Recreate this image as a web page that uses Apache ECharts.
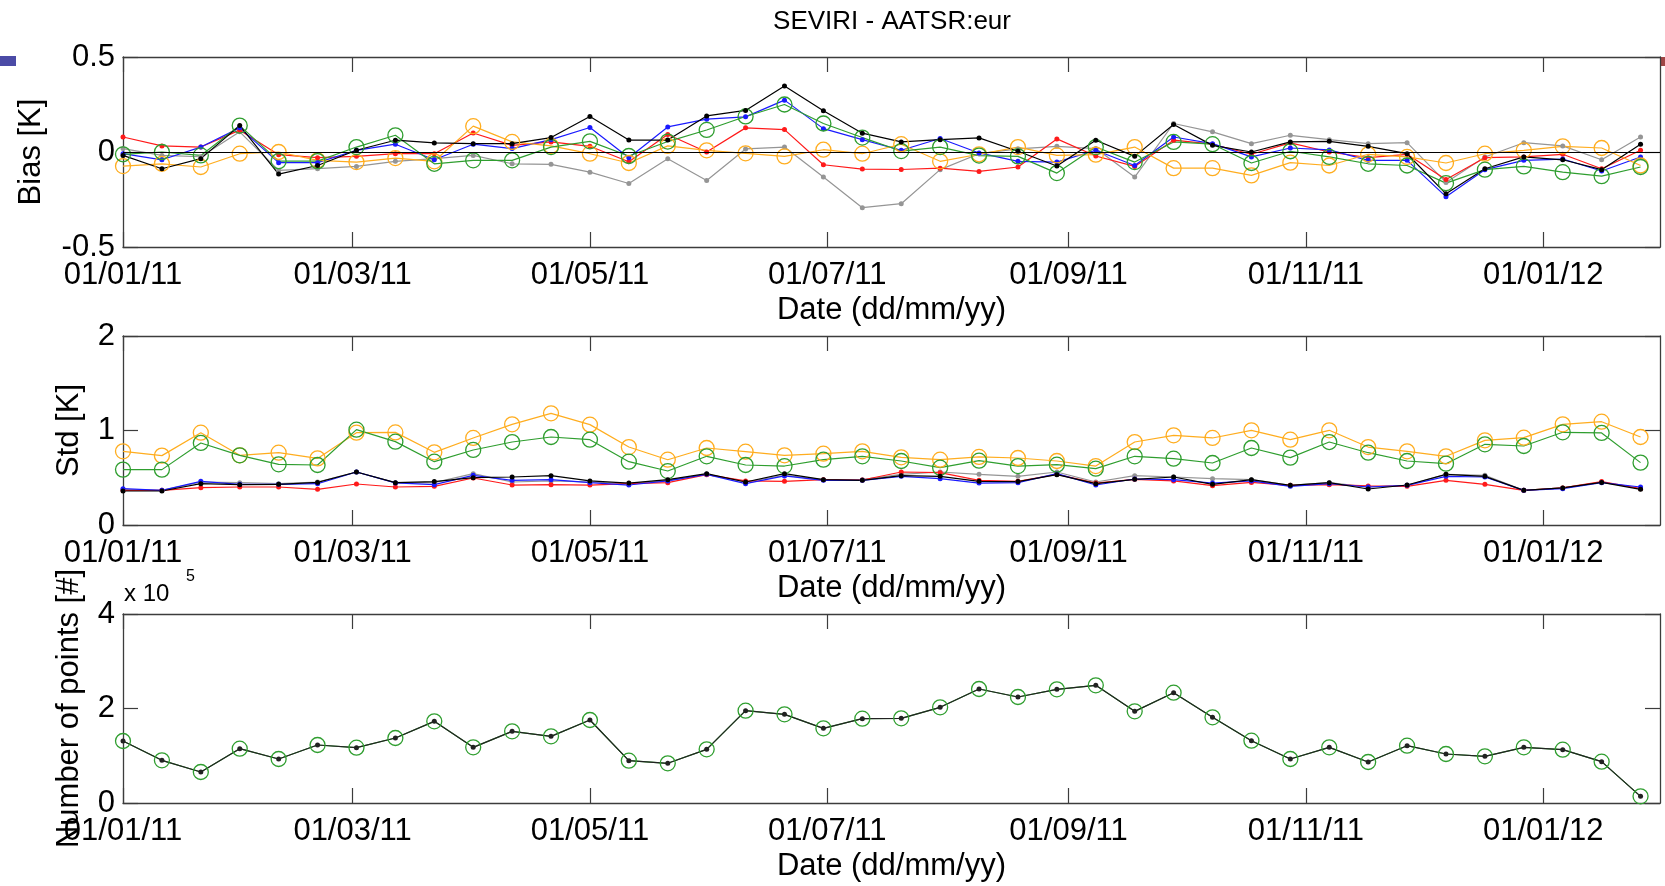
<!DOCTYPE html>
<html><head><meta charset="utf-8">
<script src="https://cdn.jsdelivr.net/npm/echarts@6/dist/echarts.min.js"></script>
<style>html,body{margin:0;padding:0;background:#fff}#c{width:1665px;height:886px}</style>
</head><body><div id="c"></div>
<script>
// ---- data ----
const dates = ['2011-01-01','2011-01-11','2011-01-21','2011-01-31','2011-02-10','2011-02-20','2011-03-02','2011-03-12','2011-03-22','2011-04-01',
 '2011-04-11','2011-04-21','2011-05-01','2011-05-11','2011-05-21','2011-05-31','2011-06-10','2011-06-20','2011-06-30','2011-07-10',
 '2011-07-20','2011-07-30','2011-08-09','2011-08-19','2011-08-29','2011-09-08','2011-09-18','2011-09-28','2011-10-08','2011-10-18',
 '2011-10-28','2011-11-07','2011-11-17','2011-11-27','2011-12-07','2011-12-17','2011-12-27','2012-01-06','2012-01-16','2012-01-26'];
const tickDates = ['2011-01-01','2011-03-01','2011-05-01','2011-07-01','2011-09-01','2011-11-01','2012-01-01'];
const tickLabels = ['01/01/11','01/03/11','01/05/11','01/07/11','01/09/11','01/11/11','01/01/12'];
const xStart = '2011-01-01', xEnd = '2012-01-31';

const biasRed = [0.079,0.032,0.026,0.115,-0.014,-0.03,-0.023,-0.009,-0.009,0.10,0.035,0.053,0.03,-0.051,0.092,0.0,0.127,0.118,-0.067,-0.09,-0.092,-0.085,-0.102,-0.079,0.069,-0.021,-0.076,0.062,0.041,-0.012,0.048,0.0,-0.03,-0.012,-0.145,-0.03,-0.026,-0.012,-0.088,0.009];
const biasBlue = [-0.009,-0.041,0.026,0.127,-0.056,-0.056,0.009,0.041,-0.041,0.041,0.018,0.065,0.129,-0.03,0.132,0.173,0.185,0.273,0.123,0.065,0.009,0.071,-0.005,-0.049,-0.053,0.009,-0.071,0.079,0.044,-0.026,0.021,0.011,-0.044,-0.044,-0.235,-0.093,-0.044,-0.037,-0.10,-0.026];
const biasGray = [0.018,-0.018,-0.025,0.106,-0.097,-0.088,-0.076,-0.049,-0.035,-0.018,-0.062,-0.065,-0.106,-0.166,-0.035,-0.15,0.016,0.026,-0.132,-0.293,-0.272,-0.093,-0.009,0.016,0.03,0.018,-0.132,0.15,0.106,0.044,0.088,0.065,0.044,0.049,-0.16,-0.026,0.049,0.032,-0.041,0.079];
const biasBlack = [-0.018,-0.088,-0.035,0.139,-0.116,-0.071,0.009,0.062,0.048,0.044,0.044,0.076,0.187,0.063,0.063,0.19,0.219,0.347,0.217,0.099,0.053,0.065,0.074,0.004,-0.074,0.062,-0.023,0.145,0.035,0.0,0.053,0.056,0.03,-0.009,-0.22,-0.088,-0.026,-0.041,-0.093,0.041];
const biasGreen = [-0.012,0.0,-0.018,0.139,-0.048,-0.048,0.026,0.088,-0.062,-0.044,-0.044,0.026,0.056,-0.021,0.055,0.116,0.187,0.25,0.15,0.076,0.005,0.026,-0.019,-0.023,-0.111,0.026,-0.053,0.053,0.041,-0.058,0.004,-0.026,-0.062,-0.071,-0.164,-0.093,-0.076,-0.106,-0.127,-0.079];
const biasOrange = [-0.074,-0.062,-0.079,-0.009,0.0,-0.044,-0.053,-0.032,-0.049,0.136,0.053,0.032,-0.009,-0.058,0.032,0.009,-0.007,-0.023,0.012,-0.009,0.041,-0.049,-0.012,0.026,-0.018,-0.014,0.026,-0.085,-0.085,-0.123,-0.056,-0.071,-0.012,-0.026,-0.058,-0.009,0.009,0.03,0.021,-0.071];

const stdOrange = [0.78,0.734,0.977,0.737,0.765,0.705,0.977,0.98,0.769,0.921,1.065,1.182,1.062,0.825,0.691,0.815,0.776,0.737,0.755,0.78,0.716,0.691,0.72,0.709,0.677,0.624,0.878,0.949,0.921,1.002,0.903,1.002,0.825,0.78,0.727,0.896,0.924,1.065,1.093,0.931];
const stdGreen = [0.586,0.586,0.868,0.737,0.642,0.635,1.009,0.882,0.67,0.794,0.878,0.931,0.903,0.67,0.571,0.727,0.635,0.624,0.691,0.727,0.677,0.607,0.681,0.624,0.638,0.596,0.727,0.702,0.656,0.815,0.713,0.878,0.765,0.677,0.649,0.854,0.836,0.981,0.974,0.66];
const stdBlack = [0.36,0.36,0.437,0.427,0.43,0.451,0.561,0.448,0.459,0.501,0.508,0.522,0.466,0.444,0.48,0.543,0.455,0.543,0.48,0.473,0.522,0.515,0.462,0.459,0.533,0.437,0.483,0.508,0.43,0.48,0.42,0.448,0.381,0.423,0.536,0.515,0.367,0.392,0.451,0.377];
const stdBlue = [0.384,0.367,0.462,0.43,0.43,0.437,0.561,0.445,0.427,0.526,0.473,0.48,0.448,0.423,0.466,0.536,0.437,0.519,0.473,0.473,0.515,0.49,0.444,0.448,0.543,0.423,0.487,0.48,0.444,0.466,0.409,0.437,0.402,0.42,0.515,0.508,0.367,0.384,0.448,0.402];
const stdRed = [0.367,0.367,0.395,0.402,0.402,0.377,0.434,0.402,0.409,0.497,0.423,0.427,0.423,0.437,0.448,0.533,0.466,0.462,0.48,0.476,0.561,0.554,0.473,0.462,0.536,0.444,0.483,0.466,0.416,0.451,0.42,0.427,0.413,0.409,0.473,0.43,0.367,0.392,0.459,0.384];
const stdGray = [0.374,0.367,0.455,0.448,0.437,0.455,0.561,0.448,0.448,0.543,0.455,0.466,0.455,0.437,0.473,0.536,0.455,0.526,0.48,0.48,0.536,0.561,0.536,0.515,0.561,0.455,0.522,0.508,0.49,0.48,0.42,0.448,0.402,0.42,0.536,0.526,0.367,0.392,0.455,0.384];

const counts = [131200,90300,65600,115000,93100,122800,117100,137600,172800,117800,151700,141100,175700,89600,84000,113600,195400,187700,158000,178500,179200,202500,241300,224300,240600,249000,194000,233500,181300,131900,93100,117800,86800,121300,103700,98800,117800,112900,87500,14100];

const yTicksBias = [-0.5, 0, 0.5];
const yTicksStd = [0, 1, 2];
const yTicksCount = [0, 200000, 400000];

// ---- helpers: x axis in days since xStart ----
function dayOf(s){const p=s.split('-').map(Number);const a=xStart.split('-').map(Number);
  return Math.round((Date.UTC(p[0],p[1]-1,p[2])-Date.UTC(a[0],a[1]-1,a[2]))/86400000);}
const tickVals = tickDates.map(dayOf);
const FONT = 'Liberation Sans, Arial, Helvetica, sans-serif';
const FS = 31;
const AX = '#3c3c3c';
const COL = {red:'#ff1a1a', blue:'#1a1aff', gray:'#959595', black:'#000000', green:'#2f9e2f', orange:'#ffad1f'};

function xAx(g, top){
  return {
    type:'value', gridIndex:g, position: top?'top':'bottom', min: dayOf(xStart), max: dayOf(xEnd),
    axisLine:{show:true, onZero:false, lineStyle:{color:AX, width:1.3}},
    axisTick:{show:true, inside:true, length:15, customValues:tickVals, lineStyle:{color:AX, width:1.2}},
    axisLabel:{show:!top, customValues:tickVals, showMinLabel:true, showMaxLabel:true, fontSize:FS, color:'#000', fontFamily:FONT, margin:13,
      formatter:function(v){const k=tickVals.indexOf(Math.round(v));return k>=0?tickLabels[k]:'';}},
    splitLine:{show:false},
    name: top?'':'Date (dd/mm/yy)', nameLocation:'middle', nameGap:48,
    nameTextStyle:{fontSize:FS, color:'#000', fontFamily:FONT}
  };
}
function yAx(g, right, ticks, name, gap, fmt){
  return {
    type:'value', gridIndex:g, position: right?'right':'left', min:ticks[0], max:ticks[ticks.length-1], interval:ticks[1]-ticks[0],
    axisLine:{show:true, onZero:false, lineStyle:{color:AX, width:1.3}},
    axisTick:{show:true, inside:true, length:15, lineStyle:{color:AX, width:1.2}},
    axisLabel:{show:!right, fontSize:FS, color:'#000', fontFamily:FONT, margin:8, formatter: fmt || (v=>String(v))},
    splitLine:{show:false},
    name: right?'':name, nameLocation:'middle', nameRotate:90, nameGap:gap,
    nameTextStyle:{fontSize:FS, color:'#000', fontFamily:FONT}
  };
}
function dotSeries(g, arr, color, extra){
  return Object.assign({
    type:'line', xAxisIndex:2*g, yAxisIndex:2*g,
    data: dates.map((d,i)=>[dayOf(d), arr[i]]),
    symbol:'circle', symbolSize:5, showSymbol:true,
    lineStyle:{color:color, width:1.2}, itemStyle:{color:color},
    silent:true, z:3
  }, extra||{});
}
function ringSeries(g, arr, color){
  return {
    type:'line', xAxisIndex:2*g, yAxisIndex:2*g,
    data: dates.map((d,i)=>[dayOf(d), arr[i]]),
    symbol:'circle', symbolSize:15, showSymbol:true,
    lineStyle:{color:color, width:1.2}, itemStyle:{color:'rgba(0,0,0,0)', borderColor:color, borderWidth:1.3},
    silent:true, z:3
  };
}

const grids = [
  {left:123, right:5, top:57, height:190},
  {left:123, right:5, top:336, height:189},
  {left:123, right:5, top:614, height:189}
];

const option = {
  animation:false,
  backgroundColor:'#fff',
  title:{text:'SEVIRI - AATSR:eur', left:892, top:9, textAlign:'center', padding:0,
    textStyle:{fontSize:26, fontWeight:'normal', color:'#000', fontFamily:FONT}},
  grid: grids,
  xAxis:[xAx(0,false),xAx(0,true),xAx(1,false),xAx(1,true),xAx(2,false),xAx(2,true)],
  yAxis:[
    yAx(0,false,yTicksBias,'Bias [K]',76), yAx(0,true,yTicksBias,'',0),
    yAx(1,false,yTicksStd,'Std [K]',38), yAx(1,true,yTicksStd,'',0),
    yAx(2,false,yTicksCount,'Number of points [#]',38, v=>String(v/1e5)), yAx(2,true,yTicksCount,'',0)
  ],
  series:[
    dotSeries(0, biasGray, COL.gray),
    dotSeries(0, biasRed, COL.red),
    dotSeries(0, biasBlue, COL.blue),
    ringSeries(0, biasOrange, COL.orange),
    ringSeries(0, biasGreen, COL.green),
    dotSeries(0, biasBlack, COL.black, {markLine:{silent:true, symbol:'none', label:{show:false},
      lineStyle:{color:'#000', width:1.2, type:'solid'}, data:[{yAxis:0}]}}),

    dotSeries(1, stdGray, COL.gray),
    dotSeries(1, stdRed, COL.red),
    dotSeries(1, stdBlue, COL.blue),
    ringSeries(1, stdOrange, COL.orange),
    ringSeries(1, stdGreen, COL.green),
    dotSeries(1, stdBlack, COL.black),

    ringSeries(2, counts, COL.green),
    dotSeries(2, counts, '#222222')
  ],
  graphic:[
    {type:'text', left:124, top:582, style:{text:'x 10', fill:'#000', fontSize:24, fontFamily:FONT}},
    {type:'text', left:186, top:569, style:{text:'5', fill:'#000', fontSize:16, fontFamily:FONT}},
    {type:'rect', left:0, top:56, shape:{width:16, height:10}, style:{fill:'#4b4ba6'}},
    {type:'rect', left:1661, top:57, shape:{width:4, height:9}, style:{fill:'#a04545'}}
  ]
};
const chart = echarts.init(document.getElementById('c'), null, {renderer:'canvas'});
chart.setOption(option);
</script></body></html>
